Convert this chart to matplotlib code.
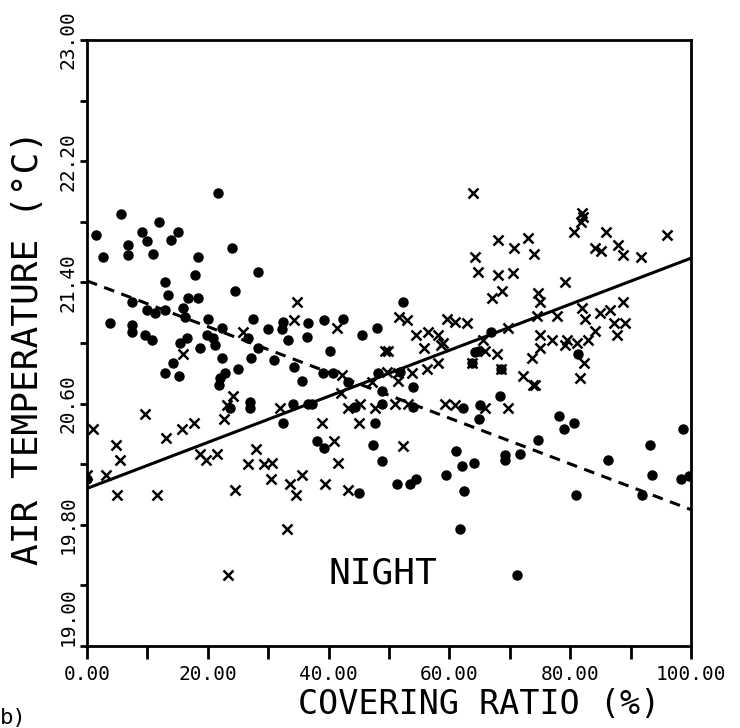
#!/usr/bin/env python3
import matplotlib
matplotlib.use("Agg")
import matplotlib.pyplot as plt
import numpy as np

# covering ratio (%) / air temperature (C)
dot_x = [21.7, 5.6, 11.9, 1.5, 9.1, 9.9, 10.9, 6.8, 6.8, 15.1, 13.9, 2.6, 24.0, 18.4,
         28.3, 17.9, 12.9, 13.4, 24.5, 16.7, 18.4, 7.5, 9.9, 11.3, 12.9, 15.9, 16.2, 20.0,
         3.8, 7.5, 7.5, 9.6, 10.8, 16.6, 15.4, 18.7, 19.9, 20.9, 22.4, 21.2, 22.4, 14.2,
         27.5, 30.0, 32.5, 32.3, 33.3, 36.6, 36.4, 39.2, 42.4, 45.5, 48.0, 40.2, 26.7, 27.2,
         28.3, 31.0, 52.3, 64.2, 64.9, 66.9, 81.3, 12.9, 15.2, 22.0, 21.9, 22.8, 23.7, 0.0,
         25.0, 34.3, 35.6, 27.0, 27.0, 34.1, 36.6, 37.3, 32.5, 39.1, 40.7, 43.2, 48.2, 48.8,
         48.8, 44.4, 47.7, 38.1, 39.2, 47.4, 48.8, 45.0, 51.8, 54.0, 54.0, 62.3, 65.1, 68.4,
         64.9, 63.7, 68.5, 74.7, 61.1, 62.1, 64.1, 69.2, 69.2, 71.7, 59.4, 51.3, 53.5, 54.5,
         62.4, 61.8, 78.1, 79.0, 80.6, 98.7, 93.2, 86.3, 93.5, 98.3, 99.7, 81.0, 91.9]
dot_y = [21.99, 21.85, 21.80, 21.71, 21.73, 21.67, 21.59, 21.65, 21.58, 21.73, 21.68, 21.57,
         21.63, 21.57, 21.47, 21.45, 21.40, 21.32, 21.34, 21.30, 21.30, 21.27, 21.22, 21.20,
         21.22, 21.23, 21.17, 21.16, 21.13, 21.12, 21.07, 21.05, 21.02, 21.03, 21.00, 20.97,
         21.05, 21.03, 21.10, 20.99, 20.90, 20.87, 21.16, 21.09, 21.14, 21.09, 21.02, 21.13,
         21.04, 21.15, 21.16, 21.05, 21.10, 20.95, 21.03, 20.90, 20.97, 20.89, 21.27, 20.94,
         20.95, 21.07, 20.93, 20.80, 20.78, 20.77, 20.72, 20.80, 20.57, 20.10, 20.83, 20.84,
         20.75, 20.61, 20.57, 20.60, 20.60, 20.60, 20.47, 20.80, 20.80, 20.74, 20.80, 20.68,
         20.60, 20.58, 20.47, 20.35, 20.31, 20.33, 20.22, 20.01, 20.81, 20.71, 20.58, 20.57,
         20.59, 20.65, 20.50, 20.87, 20.83, 20.36, 20.29, 20.19, 20.21, 20.26, 20.23, 20.27,
         20.13, 20.07, 20.07, 20.10, 20.02, 19.77, 20.52, 20.43, 20.47, 20.43, 20.33, 20.23,
         20.13, 20.10, 20.12, 20.00, 20.00]

cross_x = [34.8, 34.3, 41.4, 49.3, 25.8, 15.9, 63.9, 68.0, 70.7, 73.0, 74.0, 64.2, 64.7, 68.0,
           70.5, 67.1, 68.7, 74.7, 51.7, 53.0, 54.5, 56.5, 55.8, 58.1, 58.9, 58.6, 59.6, 60.9,
           62.9, 65.6, 69.7, 74.5, 65.9, 67.9, 49.8, 73.7, 82.0, 82.1, 81.8, 80.6, 85.9, 84.1,
           85.1, 87.9, 88.7, 91.7, 96.0, 79.1, 75.0, 77.8, 82.0, 82.5, 84.9, 86.6, 88.7, 87.3,
           89.1, 87.7, 84.1, 75.0, 75.0, 77.0, 79.5, 79.1, 81.1, 82.9, 82.3, 24.2, 23.2, 22.7,
           9.6, 1.0, 4.8, 5.5, 13.1, 15.7, 17.7, 18.7, 19.7, 21.5, 3.1, 0.0, 5.0, 11.6, 24.5,
           32.0, 42.2, 42.1, 47.2, 49.7, 43.2, 45.2, 47.7, 38.9, 45.0, 40.9, 41.6, 28.0, 26.7,
           29.3, 30.6, 30.5, 33.6, 35.6, 34.6, 39.4, 43.2, 33.1, 51.5, 51.5, 53.8, 56.3, 58.1,
           63.7, 68.5, 72.2, 73.8, 51.0, 53.1, 59.3, 60.9, 65.9, 69.7, 52.3, 81.6, 74.2]
cross_y = [21.27, 21.15, 21.10, 20.95, 21.07, 20.93, 21.99, 21.68, 21.63, 21.69, 21.59, 21.57,
           21.47, 21.45, 21.46, 21.30, 21.34, 21.33, 21.17, 21.15, 21.05, 21.07, 20.97, 21.05,
           21.00, 20.99, 21.16, 21.14, 21.13, 21.02, 21.10, 21.18, 20.95, 20.93, 20.95, 20.90,
           21.86, 21.83, 21.80, 21.73, 21.73, 21.63, 21.61, 21.65, 21.58, 21.57, 21.71, 21.40,
           21.27, 21.18, 21.23, 21.16, 21.20, 21.22, 21.27, 21.13, 21.13, 21.05, 21.08, 21.05,
           20.97, 21.02, 21.02, 20.99, 21.00, 21.02, 20.87, 20.65, 20.59, 20.50, 20.53, 20.43,
           20.33, 20.23, 20.37, 20.43, 20.47, 20.27, 20.23, 20.27, 20.13, 20.13, 20.00, 20.00,
           20.03, 20.57, 20.79, 20.67, 20.74, 20.81, 20.57, 20.60, 20.57, 20.47, 20.47, 20.35,
           20.21, 20.30, 20.20, 20.20, 20.21, 20.10, 20.07, 20.13, 20.00, 20.07, 20.03, 19.77,
           20.80, 20.75, 20.80, 20.83, 20.87, 20.87, 20.83, 20.78, 20.72, 20.60, 20.60, 20.60,
           20.59, 20.57, 20.57, 20.32, 20.77, 20.72]

# regression lines: (value at 0 %, value at 100 %)
solid_ends = [20.04, 21.56]
dashed_ends = [21.41, 19.90]
line_x = [0, 100]

# key symbols next to "NIGHT"
key_cross = (23.3, 19.47)
key_dot = (71.2, 19.47)

xticks = [0, 20, 40, 60, 80, 100]
yticks = [19.0, 19.8, 20.6, 21.4, 22.2, 23.0]

mono = "DejaVu Sans Mono"

fig = plt.figure(figsize=(7.4, 7.28), dpi=100)
ax = fig.add_axes([87 / 740, 82 / 728, 604 / 740, 606 / 728])

ax.plot(dot_x, dot_y, "o", color="black", markersize=6.5, linestyle="none")
ax.plot(cross_x, cross_y, "x", color="black", markersize=6.5, markeredgewidth=1.8,
        linestyle="none")
ax.plot(line_x, solid_ends, "-", color="black", linewidth=2.2)
ax.plot(line_x, dashed_ends, color="black", linewidth=2.2, linestyle=(0, (3.5, 2.5)))

ax.plot(*key_cross, "x", color="black", markersize=6.5, markeredgewidth=1.8)
ax.plot(*key_dot, "o", color="black", markersize=6.5)
ax.text(0.49, 0.119, "NIGHT", transform=ax.transAxes, ha="center", va="center",
        fontsize=26, family=mono)

ax.set_xlim(0, 100)
ax.set_ylim(19, 23)
ax.set_xticks(xticks)
ax.set_xticklabels([f"{v:.2f}" for v in xticks], family=mono, fontsize=14)
ax.set_xticks(np.arange(10, 100, 20), minor=True)
ax.set_yticks(yticks)
ax.set_yticklabels([f"{v:.2f}" for v in yticks], family=mono, fontsize=14,
                   rotation=90, va="center")
ax.get_yticklabels()[0].set_va("bottom")  # lowest label sits above the corner
ax.set_yticks(np.arange(19.4, 23, 0.8), minor=True)

ax.tick_params(axis="x", which="both", direction="out", length=9, width=2, pad=5)
ax.tick_params(axis="y", which="both", direction="out", length=5, width=2, pad=2)
for s in ax.spines.values():
    s.set_linewidth(2)

ax.set_xlabel("COVERING RATIO (%)", family=mono, fontsize=24)
ax.xaxis.set_label_coords(0.649, -0.07)
ax.set_ylabel("AIR TEMPERATURE (°C)", family=mono, fontsize=26)
ax.yaxis.set_label_coords(-0.07, 0.493)

fig.text(0.0, 0.0, "b)", family=mono, fontsize=16, ha="left", va="bottom")

fig.savefig("out.png", dpi=100)
plt.close(fig)
